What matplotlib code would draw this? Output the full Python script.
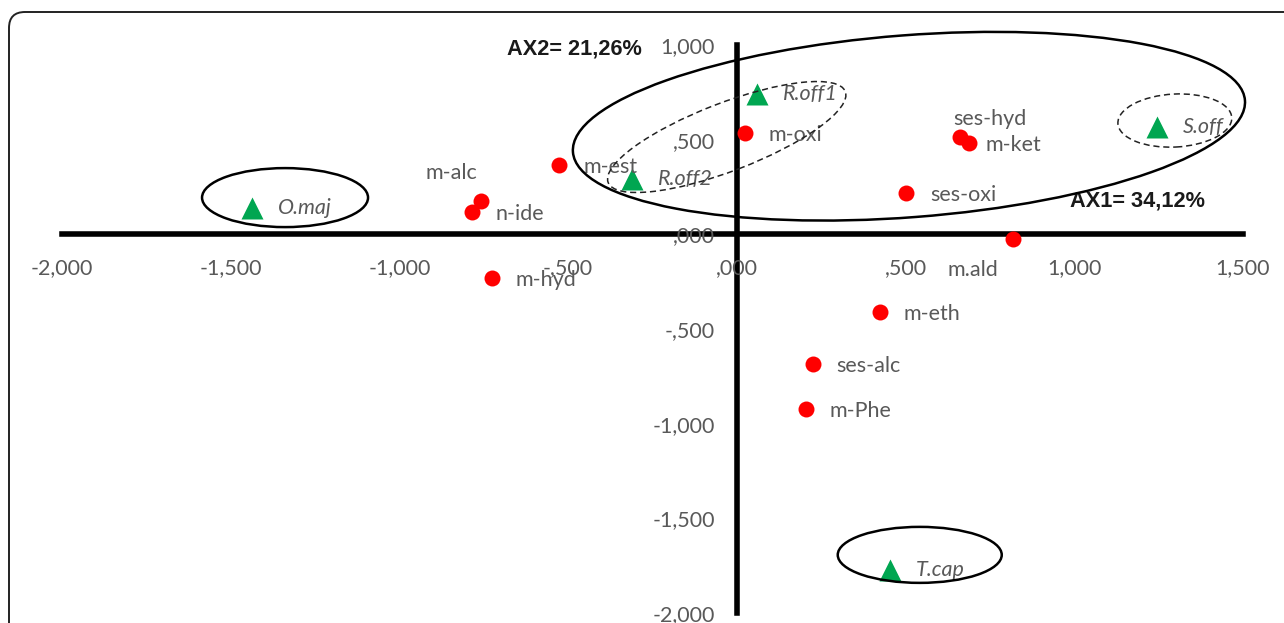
import matplotlib.pyplot as plt
import matplotlib.transforms as mtransforms
from matplotlib.patches import Ellipse, FancyBboxPatch

plt.rcParams['font.family'] = ['Lato', 'DejaVu Sans']

# volatile compound classes (red dots)
compounds = ['m-oxi', 'm-est', 'm-alc', 'n-ide', 'm-hyd', 'ses-hyd',
             'm-ket', 'ses-oxi', 'm.ald', 'm-eth', 'ses-alc', 'm-Phe']
comp_ax1 = [24, -527, -758, -785, -726, 661, 687, 501, 818, 424, 225, 204]
comp_ax2 = [535, 366, 176, 118, -231, 514, 482, 218, -25, -410, -685, -922]

# plant species (green triangles)
species = ['O.maj', 'R.off1', 'R.off2', 'S.off', 'T.cap']
sp_ax1 = [-1437, 59, -311, 1244, 453]
sp_ax2 = [139, 741, 292, 566, -1773]

x_ticks = [-2000, -1500, -1000, -500, 0, 500, 1000, 1500]
x_ticklabels = ['-2,000', '-1,500', '-1,000', '-,500', ',000', ',500', '1,000', '1,500']
y_ticks = [-2000, -1500, -1000, -500, 0, 500, 1000]
y_ticklabels = ['-2,000', '-1,500', '-1,000', '-,500', ',000', ',500', '1,000']

ax1_title = 'AX1= 34,12%'
ax2_title = 'AX2= 21,26%'

gray = '#595959'

fig = plt.figure(figsize=(12.84, 6.23), dpi=100)
ax = fig.add_axes([62 / 1284, 10 / 623, 1181 / 1284, 568 / 623])
ax.set_xlim(-2000, 1500)
ax.set_ylim(-2000, 1000)

# axes crossing at the origin
for side in ['top', 'right']:
    ax.spines[side].set_visible(False)
for side in ['left', 'bottom']:
    ax.spines[side].set_position(('data', 0))
    ax.spines[side].set_linewidth(4)
    ax.spines[side].set_color('black')
    ax.spines[side].set_zorder(1)

ax.set_xticks(x_ticks)
ax.set_xticklabels(x_ticklabels)
ax.set_yticks(y_ticks)
ax.set_yticklabels(y_ticklabels)
ax.tick_params(axis='x', length=0, pad=17, labelsize=15.5, labelcolor=gray)
ax.tick_params(axis='y', length=0, pad=16, labelsize=15.5, labelcolor=gray)

ax.plot(comp_ax1, comp_ax2, 'o', color='#ff0000', ms=11.5, mec='none', zorder=3)
ax.plot(sp_ax1, sp_ax2, '^', color='#00a651', ms=16, mec='none', zorder=3)

# label offsets in pixels: (dx, dy, ha)
comp_offsets = {
    'm-alc': (-4, 28, 'right'),
    'ses-hyd': (-7, 18, 'left'),
    'm.ald': (-15, -31, 'right'),
    'm-ket': (17, -2, 'left'),
}
for name, x, y in zip(compounds, comp_ax1, comp_ax2):
    dx, dy, ha = comp_offsets.get(name, (24, -2, 'left'))
    ax.annotate(name, (x, y), xytext=(dx, dy), textcoords='offset pixels',
                ha=ha, va='center', fontsize=15.5, color=gray, zorder=4)

for name, x, y in zip(species, sp_ax1, sp_ax2):
    ax.annotate(name, (x, y), xytext=(26, 0), textcoords='offset pixels',
                ha='left', va='center', fontsize=15.5, color=gray,
                style='italic', zorder=4)

ax.text(-681, 978, ax2_title, ha='left', va='center', fontsize=15.7,
        fontweight='bold', color='#1a1a1a', family='Liberation Sans')
ax.text(987, 176, ax1_title, ha='left', va='center', fontsize=15.7,
        fontweight='bold', color='#1a1a1a', family='Liberation Sans')

# group outlines: centre in data units, size in pixels
groups = [
    ((-1339, 194), 166, 59, 0, 'solid'),
    ((510, 571), 674, 182, 4.4, 'solid'),
    ((-30, 514), 254, 68, 21, 'dashed'),
    ((1298, 601), 114, 53, 3, 'dashed'),
    ((542, -1693), 164, 56, 0, 'solid'),
]
for (cx, cy), w, h, ang, ls in groups:
    trans = mtransforms.ScaledTranslation(cx, cy, ax.transData)
    if ls == 'solid':
        e = Ellipse((0, 0), w, h, angle=ang, fill=False, ec='black', lw=1.8,
                    transform=trans, clip_on=False, zorder=5)
    else:
        e = Ellipse((0, 0), w, h, angle=ang, fill=False, ec='#222222', lw=1.1,
                    ls=(0, (4, 2.5)), transform=trans, clip_on=False, zorder=5)
    ax.add_patch(e)

# rounded chart frame running off the right and bottom edges
frame = FancyBboxPatch((9, -40), 1320, 623 - 12 + 40,
                       boxstyle='round,pad=0,rounding_size=16',
                       fill=False, ec='#222222', lw=1.4,
                       transform=mtransforms.IdentityTransform())
fig.add_artist(frame)

fig.savefig('out.png', dpi=100)
